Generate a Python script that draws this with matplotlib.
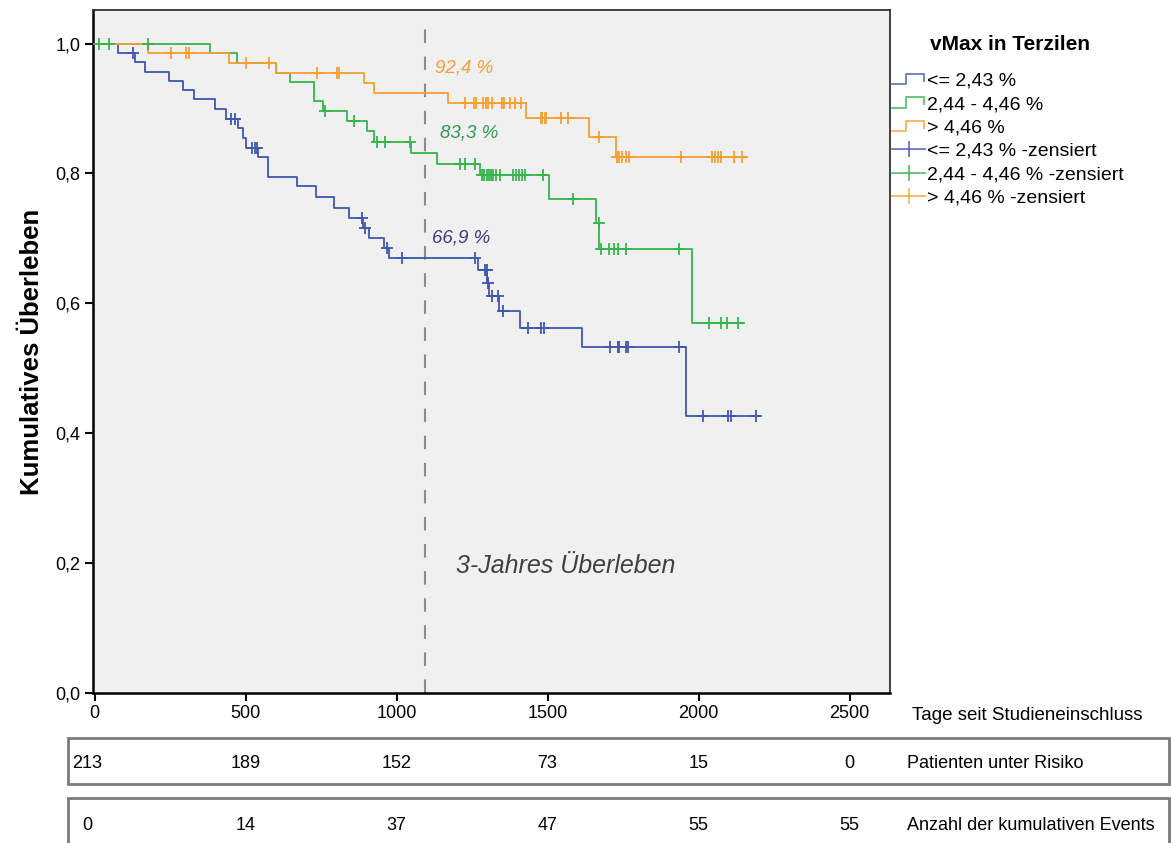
import matplotlib
matplotlib.use('Agg')
import matplotlib.pyplot as plt
import matplotlib.transforms as mtransforms
from matplotlib.lines import Line2D
from matplotlib.patches import Rectangle
from matplotlib.legend_handler import HandlerBase
import numpy as np

plt.rcParams['font.family'] = ['Liberation Sans', 'DejaVu Sans']

# Kaplan-Meier steps (days, survival after the event)
blue_t = [78, 133, 168, 248, 292, 331, 398, 437, 475, 492, 503, 541, 573, 672, 732, 793,
          842, 890, 908, 957, 974, 1271, 1301, 1305, 1340, 1408, 1615, 1958]
blue_s = [0.985, 0.972, 0.956, 0.942, 0.928, 0.914, 0.899, 0.884, 0.870, 0.855, 0.839, 0.825,
          0.794, 0.780, 0.763, 0.747, 0.731, 0.716, 0.700, 0.685, 0.669, 0.652, 0.631, 0.611,
          0.588, 0.562, 0.533, 0.426]
blue_cens = [127, 453, 464, 522, 530, 537, 886, 895, 968, 1018, 1260, 1293, 1299, 1303, 1315,
             1337, 1353, 1434, 1480, 1487, 1707, 1733, 1738, 1760, 1766, 1936, 2015, 2098,
             2106, 2189]
blue_end = 2200

green_t = [384, 472, 600, 648, 727, 757, 835, 902, 925, 1049, 1134, 1277, 1504, 1659, 1672, 1977]
green_s = [0.985, 0.970, 0.955, 0.941, 0.911, 0.896, 0.881, 0.865, 0.849, 0.832, 0.814, 0.798,
           0.761, 0.724, 0.683, 0.569]
green_cens = [16, 49, 177, 762, 859, 936, 963, 1046, 1211, 1227, 1260, 1282, 1290, 1298, 1305,
              1312, 1320, 1331, 1342, 1385, 1395, 1405, 1415, 1425, 1484, 1583, 1669, 1678,
              1705, 1719, 1733, 1760, 1936, 2035, 2073, 2095, 2132]
green_end = 2150

orange_t = [177, 446, 600, 892, 925, 1172, 1428, 1637, 1727]
orange_s = [0.985, 0.970, 0.955, 0.939, 0.924, 0.908, 0.885, 0.856, 0.825]
orange_cens = [254, 303, 314, 501, 578, 738, 804, 809, 1227, 1257, 1263, 1287, 1296, 1304, 1315,
               1348, 1355, 1375, 1392, 1411, 1477, 1483, 1490, 1496, 1546, 1567, 1670, 1731,
               1738, 1745, 1760, 1771, 1942, 2046, 2055, 2064, 2073, 2117, 2143]
orange_end = 2161

group_labels = ['<= 2,43 %', '2,44 - 4,46 %', '> 4,46 %']
three_year = 1095
three_year_pct = ['66,9 %', '83,3 %', '92,4 %']

table_x = [0, 500, 1000, 1500, 2000, 2500]
at_risk = [213, 189, 152, 73, 15, 0]
cum_events = [0, 14, 37, 47, 55, 55]

c_blue = '#3f57b0'
c_green = '#35b54c'
c_orange = '#f7a030'


class StepHandler(HandlerBase):
    def create_artists(self, legend, orig_handle, xdescent, ydescent, width, height, fontsize, trans):
        xs = np.array([0, 0.42, 0.42, 0.97, 0.97]) * width - xdescent
        ys = np.array([0.1, 0.1, 0.85, 0.85, 0.35]) * height - ydescent
        ln = Line2D(xs, ys, color=orig_handle.get_color(), lw=1.3, alpha=0.8, transform=trans)
        return [ln]


fig = plt.figure(figsize=(11.71, 8.43), dpi=100)
ax = fig.add_axes([93 / 1171, 150 / 843, 797 / 1171, 683 / 843])
ax.set_facecolor('#f0f0f0')


def km(t, s, cens, end, color):
    tt = np.concatenate([[0], t, [end]])
    ss = np.concatenate([[1.0], s, [s[-1]]])
    ax.step(tt, ss, where='post', color=color, lw=1.3, zorder=3)
    idx = np.searchsorted(t, cens, side='right')
    cy = np.concatenate([[1.0], s])[idx]
    ax.plot(cens, cy, ls='none', marker='+', ms=8, mew=1.3, color=color, zorder=4)


km(blue_t, blue_s, blue_cens, blue_end, c_blue)
km(green_t, green_s, green_cens, green_end, c_green)
km(orange_t, orange_s, orange_cens, orange_end, c_orange)

ax.axvline(three_year, color='#8c8c8c', lw=1.5, dashes=(6.5, 6.5), ymin=0, ymax=0.99, zorder=2)

ax.text(1128, 0.956, three_year_pct[2], color='#f0a030', fontsize=13.5, style='italic')
ax.text(1145, 0.855, three_year_pct[1], color='#2f9a50', fontsize=13.5, style='italic')
ax.text(1118, 0.693, three_year_pct[0], color='#3b3b80', fontsize=13.5, style='italic')
ax.text(1560, 0.195, '3-Jahres Überleben', color='#404040', fontsize=18, style='italic',
        ha='center', va='center')

ax.set_xlim(-5, 2634)
ax.set_ylim(0, 1.0516)
ax.set_xticks(table_x)
ax.set_yticks([0, 0.2, 0.4, 0.6, 0.8, 1.0])
ax.set_yticklabels(['0,0', '0,2', '0,4', '0,6', '0,8', '1,0'])
ax.tick_params(direction='out', length=6, width=1.5, labelsize=13, colors='black', pad=3)
for side in ['left', 'bottom']:
    ax.spines[side].set_linewidth(1.8)
for side in ['top', 'right']:
    ax.spines[side].set_linewidth(1.3)
    ax.spines[side].set_color('#333333')
ax.set_ylabel('Kumulatives Überleben', fontsize=18.5, fontweight='bold', labelpad=8)

fig.text(912 / 1171, 1 - 716 / 843, 'Tage seit Studieneinschluss', fontsize=13.5, va='center')

# number-at-risk table below the plot
blend = mtransforms.blended_transform_factory(ax.transData, fig.transFigure)
for (y0, y1, yc_px, vals, label) in [(738, 784, 763, at_risk, 'Patienten unter Risiko'),
                                     (798, 850, 825, cum_events, 'Anzahl der kumulativen Events')]:
    fig.patches.append(Rectangle((68 / 1171, 1 - y1 / 843), (1169 - 68) / 1171, (y1 - y0) / 843,
                                 transform=fig.transFigure, fill=False, ec='#7a7a7a', lw=2))
    yc = 1 - yc_px / 843
    for i, (x, v) in enumerate(zip(table_x, vals)):
        tr = blend
        if i == 0:
            tr = blend + mtransforms.ScaledTranslation(-0.07, 0, fig.dpi_scale_trans)
        fig.text(x, yc, str(v), transform=tr, fontsize=13, ha='center', va='center')
    fig.text(907 / 1171, yc, label, fontsize=13, va='center')

handles = [Line2D([], [], color=c) for c in (c_blue, c_green, c_orange)]
handles += [Line2D([], [], color=c, marker='|', ms=12, mew=1.3, lw=1.3, alpha=0.8)
            for c in (c_blue, c_green, c_orange)]
labels = group_labels + [g + ' -zensiert' for g in group_labels]
fig.text(1010 / 1171, 1 - 44 / 843, 'vMax in Terzilen', fontsize=15, fontweight='bold',
         ha='center', va='center')
leg = fig.legend(handles, labels, loc='upper left', bbox_to_anchor=(892 / 1171, 1 - 72 / 843),
                 frameon=False, fontsize=14,
                 handlelength=1.7, handletextpad=0.1, labelspacing=0.3, borderpad=0,
                 borderaxespad=0, numpoints=1,
                 handler_map={h: StepHandler() for h in handles[:3]})

fig.savefig('out.png', dpi=100)
